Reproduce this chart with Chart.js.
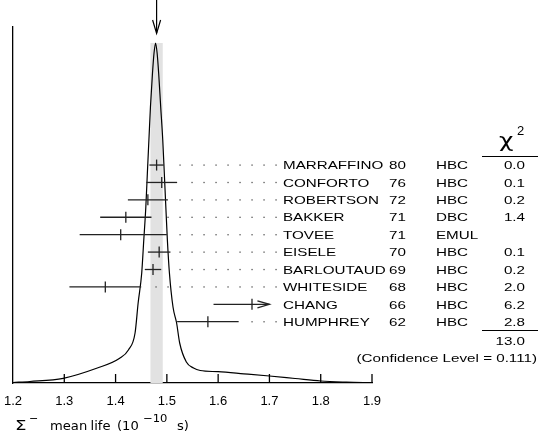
<!DOCTYPE html>
<html>
<head>
<meta charset="utf-8">
<script src="https://cdn.jsdelivr.net/npm/chart.js@4.4.1/dist/chart.umd.min.js"></script>
<style>
  html, body { margin: 0; padding: 0; background: #fff; }
</style>
</head>
<body>
<canvas id="ideogram" width="538" height="444"></canvas>
<script>
// measurements, top row first
const authors = ['MARRAFFINO', 'CONFORTO', 'ROBERTSON', 'BAKKER', 'TOVEE', 'EISELE', 'BARLOUTAUD', 'WHITESIDE', 'CHANG', 'HUMPHREY'];
const years = ['80', '76', '72', '71', '71', '70', '69', '68', '66', '62'];
const techniques = ['HBC', 'HBC', 'HBC', 'DBC', 'EMUL', 'HBC', 'HBC', 'HBC', 'HBC', 'HBC'];
const lifetimes = [1.480, 1.49, 1.463, 1.42, 1.41, 1.485, 1.473, 1.38, 1.666, 1.58];
const errLow = [0.014, 0.03, 0.039, 0.05, 0.08, 0.022, 0.016, 0.07, 0.075, 0.06];
const errHigh = [0.014, 0.03, 0.039, 0.05, 0.09, 0.022, 0.016, 0.07, 0.075, 0.06];
const chi2 = ['0.0', '0.1', '0.2', '1.4', '', '0.1', '0.2', '2.0', '6.2', '2.8'];
const chi2Total = '13.0';
const confidenceLevel = '0.111';

// weighted average (arrow + grey band)
const average = 1.480;
const averageErr = 0.012;

// ideogram curve
const curveX = [1.200, 1.233, 1.298, 1.363, 1.408, 1.425, 1.438, 1.444, 1.451, 1.455,
                1.459, 1.462, 1.465, 1.468, 1.472, 1.475, 1.478, 1.481, 1.484, 1.488,
                1.492, 1.495, 1.498, 1.501, 1.505, 1.512, 1.519, 1.525, 1.538, 1.552,
                1.565, 1.600, 1.650, 1.700, 1.750, 1.800, 1.850, 1.900];
const curveY = [0.5, 1.5, 4.7, 14.7, 24.7, 33, 50, 80, 110, 143,
                176, 210, 243, 276, 310, 330, 340, 330, 310, 276,
                243, 210, 176, 143, 110, 76, 60, 40, 21, 15,
                12.5, 11.3, 9.2, 7, 4.5, 2, 0.9, 0.3];

const xTicks = [1.2, 1.3, 1.4, 1.5, 1.6, 1.7, 1.8, 1.9];
const arrowLimit = 1.70; // bars running past this end in an arrow

const tableFont = '11.5px "Liberation Sans", Arial, sans-serif';
const stretch = 1.32;

function stretchText(ctx, text, px, py, align, sx) {
    ctx.save();
    ctx.translate(px, py);
    ctx.scale(sx, 1);
    ctx.textAlign = align;
    ctx.fillText(text, 0, 0);
    ctx.restore();
}

function line(ctx, x0, y0, x1, y1) {
    ctx.beginPath();
    ctx.moveTo(x0, y0);
    ctx.lineTo(x1, y1);
    ctx.stroke();
}

const ideogramExtras = {
    id: 'ideogramExtras',
    beforeDatasetsDraw(chart) {
        const { ctx, scales: { x, y } } = chart;
        const peak = Math.max(...curveY);
        const x0 = x.getPixelForValue(average - averageErr);
        const x1 = x.getPixelForValue(average + averageErr);
        ctx.save();
        ctx.fillStyle = '#e2e2e2';
        ctx.fillRect(x0, y.getPixelForValue(peak), x1 - x0, y.getPixelForValue(0) - y.getPixelForValue(peak));
        ctx.restore();
    },
    afterDatasetsDraw(chart) {
        const { ctx, chartArea, scales: { x, rows } } = chart;
        ctx.save();
        ctx.strokeStyle = '#222';
        ctx.lineWidth = 1.3;

        // error bars + leader dots
        const textX = 283;
        lifetimes.forEach((v, i) => {
            const py = rows.getPixelForValue(i);
            const lo = x.getPixelForValue(v - errLow[i]);
            let hiVal = v + errHigh[i];
            const clipped = hiVal > arrowLimit;
            if (clipped) hiVal = arrowLimit;
            const hi = x.getPixelForValue(hiVal);
            line(ctx, lo, py, hi, py);
            if (clipped) {
                ctx.beginPath();
                ctx.moveTo(hi - 12, py - 3.5);
                ctx.lineTo(hi, py);
                ctx.lineTo(hi - 12, py + 3.5);
                ctx.stroke();
            }
            ctx.fillStyle = '#555';
            for (let dx = textX - 7; dx > hi + 9; dx -= 12) {
                ctx.fillRect(dx - 0.6, py - 0.6, 1.3, 1.3);
            }
        });

        // inward ticks on the x axis
        ctx.strokeStyle = '#000';
        xTicks.slice(1).forEach(v => {
            const px = x.getPixelForValue(v);
            line(ctx, px, chartArea.bottom, px, chartArea.bottom - 9);
        });

        // arrow pointing at the average
        const ax = x.getPixelForValue(average);
        ctx.lineWidth = 1.2;
        line(ctx, ax, 0, ax, 33);
        ctx.beginPath();
        ctx.moveTo(ax - 4, 20);
        ctx.lineTo(ax, 33.5);
        ctx.lineTo(ax + 4, 20);
        ctx.stroke();

        // table on the right
        ctx.fillStyle = '#000';
        ctx.font = tableFont;
        ctx.textBaseline = 'alphabetic';
        authors.forEach((name, i) => {
            const by = rows.getPixelForValue(i) + 4.2;
            stretchText(ctx, name, 283, by, 'left', stretch);
            stretchText(ctx, years[i], 389, by, 'left', stretch);
            stretchText(ctx, techniques[i], 436, by, 'left', stretch);
            if (chi2[i]) stretchText(ctx, chi2[i], 525, by, 'right', stretch);
        });
        ctx.lineWidth = 1;
        const topLine = Math.round(rows.getPixelForValue(-0.5)) + 0.5;
        const sumLine = Math.round(rows.getPixelForValue(authors.length - 0.5)) + 0.5;
        line(ctx, 482, topLine, 538, topLine);
        line(ctx, 482, sumLine, 538, sumLine);
        stretchText(ctx, chi2Total, 525, rows.getPixelForValue(authors.length + 0.1) + 4.2, 'right', stretch);
        stretchText(ctx, '(Confidence Level = ' + confidenceLevel + ')', 537,
            rows.getPixelForValue(authors.length + 1.05) + 4.2, 'right', stretch);

        // chi^2 header
        ctx.font = '20px "DejaVu Sans", sans-serif';
        stretchText(ctx, 'χ', 499, 147, 'left', 1.25);
        ctx.font = '13px "Liberation Sans", Arial, sans-serif';
        stretchText(ctx, '2', 517, 135, 'left', 1);

        // axis title
        ctx.font = '14px "DejaVu Sans", sans-serif';
        stretchText(ctx, 'Σ', 15, 430, 'left', 1.3);
        ctx.font = '11px "DejaVu Sans", sans-serif';
        stretchText(ctx, '−', 29, 422, 'left', 1);
        ctx.font = '12.5px "DejaVu Sans", sans-serif';
        stretchText(ctx, 'mean', 50, 430, 'left', 1.05);
        stretchText(ctx, 'life', 90.5, 430, 'left', 1.05);
        stretchText(ctx, '(10', 117, 430, 'left', 1.05);
        ctx.font = '11px "DejaVu Sans", sans-serif';
        stretchText(ctx, '−10', 143, 422, 'left', 1.05);
        ctx.font = '12.5px "DejaVu Sans", sans-serif';
        stretchText(ctx, 's)', 177, 430, 'left', 1.05);
        ctx.restore();
    }
};

const ctx = document.getElementById('ideogram').getContext('2d');
new Chart(ctx, {
    type: 'line',
    data: {
        datasets: [{
            label: 'ideogram',
            data: curveX.map((v, i) => ({ x: v, y: curveY[i] })),
            borderColor: '#000',
            borderWidth: 1.2,
            pointRadius: 0,
            cubicInterpolationMode: 'monotone',
            fill: false,
            yAxisID: 'y'
        }, {
            type: 'scatter',
            label: 'measurements',
            data: lifetimes.map((v, i) => ({ x: v, y: i })),
            yAxisID: 'rows',
            pointStyle: 'line',
            pointRotation: 90,
            pointRadius: 5.5,
            pointBorderColor: '#222',
            pointBorderWidth: 1.3
        }]
    },
    options: {
        responsive: false,
        animation: false,
        devicePixelRatio: 1,
        layout: { padding: { top: 27, right: 166, bottom: 0, left: 0 } },
        plugins: { legend: { display: false }, tooltip: { enabled: false } },
        scales: {
            x: {
                type: 'linear',
                min: 1.2,
                max: 1.9,
                afterBuildTicks: s => { s.ticks = xTicks.map(v => ({ value: v })); },
                afterFit: s => { s.height = 61; },
                ticks: {
                    color: '#000',
                    padding: 0,
                    maxRotation: 0,
                    font: { family: '"Liberation Sans", Arial, sans-serif', size: 13 },
                    callback: v => v.toFixed(1)
                },
                // invisible tick marks only push the labels down
                grid: { display: true, drawOnChartArea: false, drawTicks: true, tickLength: 11, tickColor: 'rgba(0,0,0,0)' },
                border: { display: true, color: '#000', width: 1.3 }
            },
            y: {
                position: 'left',
                min: 0,
                max: 356,
                afterFit: s => { s.width = 13; },
                ticks: { display: false },
                grid: { display: false, drawTicks: false },
                border: { display: true, color: '#000', width: 1.3 }
            },
            rows: {
                position: 'right',
                reverse: true,
                min: -7.93,
                max: 12.52,
                afterFit: s => { s.width = 0; },
                ticks: { display: false },
                grid: { display: false, drawTicks: false },
                border: { display: false }
            }
        }
    },
    plugins: [ideogramExtras]
});
</script>
</body>
</html>
